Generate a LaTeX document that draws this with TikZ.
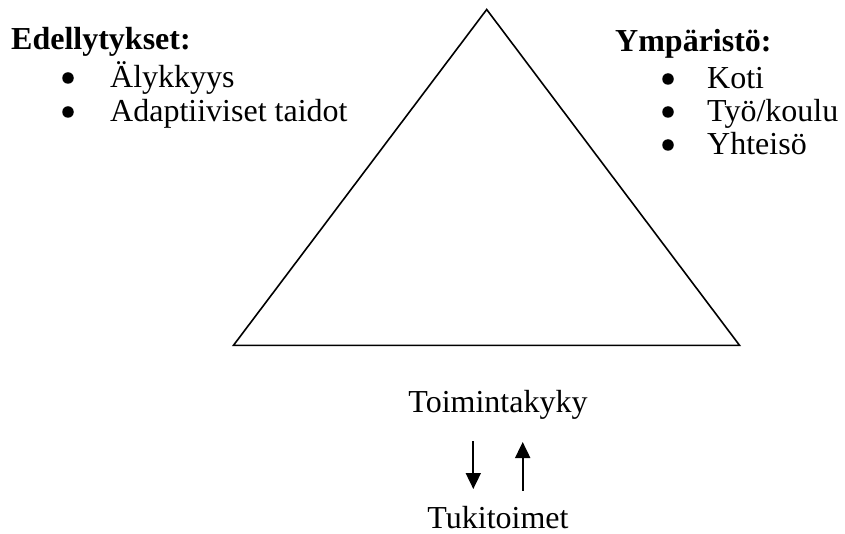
\documentclass[tikz,border=0pt]{standalone}
\usepackage{fontspec}
\setmainfont{Liberation Serif}
\usetikzlibrary{arrows.meta}
\begin{document}
\begin{tikzpicture}[x=1pt,y=-1pt,
  txt/.style={anchor=base west,inner sep=0pt,font=\fontsize{32}{38}\selectfont},
  head/.style={txt,font=\fontsize{32}{38}\selectfont\bfseries},
  bul/.style={circle,fill=black,inner sep=0pt,minimum size=11.5pt},
  tri/.style={line width=1.6pt,line join=miter},
  arr/.style={line width=1.8pt,-{Triangle[width=15pt,length=16pt]}}]
\useasboundingbox (0,0) rectangle (845,534);
% triangle
\coordinate (apex) at (486.7,9.5);
\coordinate (bl) at (233.5,345.3);
\coordinate (br) at (739.5,345.3);
\draw[tri] (apex) -- (br) -- (bl) -- cycle;
% left list
\node[head] (edl) at (11,50) {Edellytykset:};
\node[bul] (b1) at (68,78) {};
\node[txt] (l1) at (110,88) {Älykkyys};
\node[bul] (b2) at (68,112) {};
\node[txt] (l2) at (110,122) {Adaptiiviset taidot};
% right list
\node[head] (ymp) at (615,52) {Ympäristö:};
\node[bul] (b3) at (668,79) {};
\node[txt] (r1) at (707,89) {Koti};
\node[bul] (b4) at (668,112) {};
\node[txt] (r2) at (707,122) {Työ/koulu};
\node[bul] (b5) at (668,145) {};
\node[txt] (r3) at (707,155) {Yhteisö};
% bottom
\node[txt,anchor=base] (toim) at (498,412) {Toimintakyky};
\node[txt,anchor=base] (tuki) at (498,528) {Tukitoimet};
\coordinate (d1) at (473.3,441);
\coordinate (d2) at (473.3,489);
\coordinate (u1) at (522.7,490.5);
\coordinate (u2) at (522.7,442);
\draw[arr] (d1) -- (d2);
\draw[arr] (u1) -- (u2);
\end{tikzpicture}
\end{document}
